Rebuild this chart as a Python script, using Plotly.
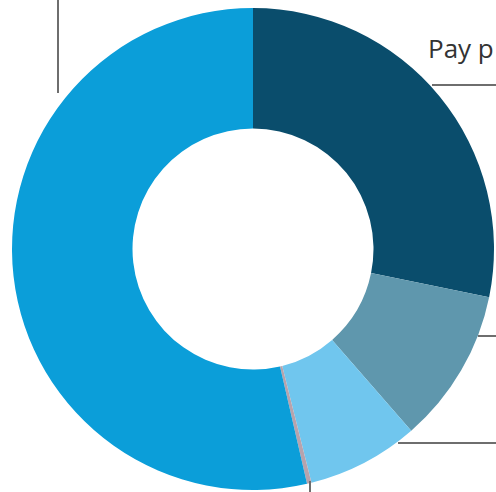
import plotly.graph_objects as go

# Segment shares (percent), clockwise from 12 o'clock
categories = ["Pay p", "Segment B", "Segment C", "Segment D", "Segment E"]
values = [28.2, 10.4, 7.5, 0.3, 53.6]
colors = ["#0a4d6c", "#5f97ad", "#70c6ee", "#b7a3ad", "#0b9ed9"]

W, H = 496, 492

def px(x):
    return x / W

def py(y):
    return 1 - y / H

fig = go.Figure(
    go.Pie(
        labels=categories,
        values=values,
        sort=False,
        direction="clockwise",
        rotation=0,
        hole=0.5,
        textinfo="none",
        hoverinfo="label+percent",
        marker=dict(colors=colors, line=dict(width=0)),
        domain=dict(x=[px(12), px(494)], y=[py(490), py(8)]),
        showlegend=False,
    )
)

line_style = dict(color="#6e6e6e", width=2)
leaders = [
    (58, 0, 58, 93),
    (432, 85, 496, 85),
    (478, 336, 496, 336),
    (398, 443, 496, 443),
    (310, 481, 310, 492),
]
for x0, y0, x1, y1 in leaders:
    fig.add_shape(type="line", xref="paper", yref="paper",
                  x0=px(x0), y0=py(y0), x1=px(x1), y1=py(y1), line=line_style)

fig.add_annotation(
    x=px(426), y=py(48), xref="paper", yref="paper",
    text=categories[0], showarrow=False, xanchor="left", yanchor="middle",
    font=dict(family="Open Sans, Noto Sans, sans-serif", size=26, color="#333333"),
)

fig.update_layout(
    width=W, height=H,
    margin=dict(l=0, r=0, t=0, b=0),
    paper_bgcolor="white",
    plot_bgcolor="white",
)

fig.write_html("out.html")
